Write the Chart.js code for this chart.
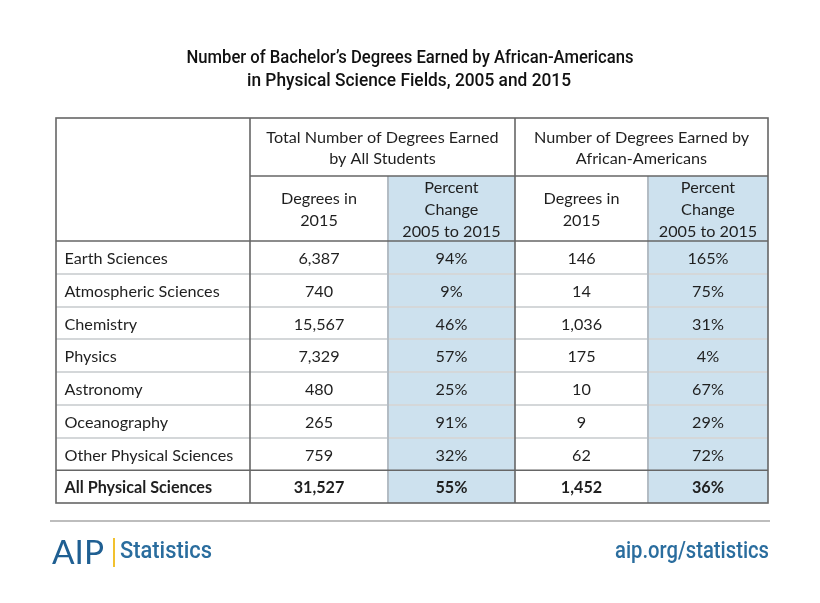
<!DOCTYPE html>
<html>
<head>
<meta charset="utf-8">
<script src="https://cdn.jsdelivr.net/npm/chart.js@4.4.1/dist/chart.umd.min.js"></script>
<style>
html,body{margin:0;padding:0;background:#fff;}
#wrap{width:820px;height:603px;position:relative;}
</style>
</head>
<body>
<div id="wrap"><canvas id="c" width="820" height="603"></canvas></div>
<script>
// ---- data ----
const titleLines = ["Number of Bachelor\u2019s Degrees Earned by African-Americans", "in Physical Science Fields, 2005 and 2015"];
const groupHeaders = [["Total Number of Degrees Earned", "by All Students"], ["Number of Degrees Earned by", "African-Americans"]];
const columnHeaders = [["Degrees in", "2015"], ["Percent", "Change", "2005 to 2015"], ["Degrees in", "2015"], ["Percent", "Change", "2005 to 2015"]];
const fields = ["Earth Sciences", "Atmospheric Sciences", "Chemistry", "Physics", "Astronomy", "Oceanography", "Other Physical Sciences", "All Physical Sciences"];
const allDegrees2015 = [6387, 740, 15567, 7329, 480, 265, 759, 31527];
const allPctChange = [94, 9, 46, 57, 25, 91, 32, 55];
const aaDegrees2015 = [146, 14, 1036, 175, 10, 9, 62, 1452];
const aaPctChange = [165, 75, 31, 4, 67, 29, 72, 36];

// ---- layout (table units) ----
const colEdges = [0, 194, 332, 459, 592, 712];
const headerEdges = [0, 58, 123];
const rowH = 32.75;
const tableH = 385;
const shadedCols = [2, 4];

const fmtNum = v => v.toLocaleString('en-US');
const fmtPct = v => v + '%';
const columns = [
  {vals: allDegrees2015, fmt: fmtNum},
  {vals: allPctChange, fmt: fmtPct},
  {vals: aaDegrees2015, fmt: fmtNum},
  {vals: aaPctChange, fmt: fmtPct}
];

const BODY = '"Lato", "Open Sans", sans-serif';
const COND = 'Roboto, "Liberation Sans Narrow", sans-serif';
const FS = '16.2px ';

function fitText(ctx, text, x, y, width, font, color, align) {
  ctx.save();
  ctx.font = font;
  ctx.fillStyle = color;
  ctx.textBaseline = 'middle';
  const w = ctx.measureText(text).width;
  const s = width / w;
  let x0 = align === 'right' ? x - width : (align === 'center' ? x - width / 2 : x);
  ctx.translate(x0, y);
  ctx.scale(s, 1);
  ctx.textAlign = 'left';
  ctx.fillText(text, 0, 0);
  ctx.restore();
}

const tablePlugin = {
  id: 'tablePlugin',
  beforeDraw(chart) {
    const ctx = chart.ctx;
    const xs = chart.scales.x, ys = chart.scales.y;
    const X = v => xs.getPixelForValue(v);
    const Y = v => ys.getPixelForValue(v);
    const rowTop = i => headerEdges[2] + i * rowH;

    ctx.save();
    ctx.fillStyle = '#cde1ee';
    shadedCols.forEach(c => {
      ctx.fillRect(X(colEdges[c]), Y(headerEdges[1]), X(colEdges[c + 1]) - X(colEdges[c]), Y(tableH) - Y(headerEdges[1]));
    });

    ctx.lineWidth = 2;
    ctx.strokeStyle = '#d4d7d9';
    for (let i = 1; i < fields.length - 1; i++) {
      const y = Math.round(Y(rowTop(i)));
      ctx.beginPath(); ctx.moveTo(X(0), y); ctx.lineTo(X(712), y); ctx.stroke();
    }
    ctx.strokeStyle = '#b3bcc4';
    [2, 4].forEach(c => {
      const x = Math.round(X(colEdges[c]));
      ctx.beginPath(); ctx.moveTo(x, Y(headerEdges[1])); ctx.lineTo(x, Y(tableH)); ctx.stroke();
    });
    ctx.strokeStyle = '#666666';
    ctx.lineWidth = 1.6;
    let y = Y(headerEdges[1]);
    ctx.beginPath(); ctx.moveTo(X(colEdges[1]), y); ctx.lineTo(X(712), y); ctx.stroke();
    y = Y(headerEdges[2]);
    ctx.beginPath(); ctx.moveTo(X(0), y); ctx.lineTo(X(712), y); ctx.stroke();
    y = Y(rowTop(fields.length - 1));
    ctx.beginPath(); ctx.moveTo(X(0), y); ctx.lineTo(X(712), y); ctx.stroke();
    [1, 3].forEach(c => {
      const x = X(colEdges[c]);
      ctx.beginPath(); ctx.moveTo(x, Y(0)); ctx.lineTo(x, Y(tableH)); ctx.stroke();
    });
    ctx.strokeRect(X(0), Y(0), X(712) - X(0), Y(tableH) - Y(0));
    ctx.restore();

    ctx.save();
    ctx.fillStyle = '#1f1f1f';
    ctx.textBaseline = 'middle';
    ctx.textAlign = 'center';
    ctx.font = FS + BODY;
    const dy = 1.5;
    groupHeaders.forEach((lines, g) => {
      const cx = (X(colEdges[1 + g * 2]) + X(colEdges[3 + g * 2])) / 2;
      const cy = (Y(headerEdges[0]) + Y(headerEdges[1])) / 2 + dy;
      lines.forEach((t, i) => ctx.fillText(t, cx, cy + (i - (lines.length - 1) / 2) * 21.5));
    });
    columnHeaders.forEach((lines, c) => {
      const cx = (X(colEdges[c + 1]) + X(colEdges[c + 2])) / 2;
      const cy = (Y(headerEdges[1]) + Y(headerEdges[2])) / 2 + dy;
      lines.forEach((t, i) => ctx.fillText(t, cx, cy + (i - (lines.length - 1) / 2) * 22));
    });
    fields.forEach((f, r) => {
      const bold = r === fields.length - 1;
      ctx.font = (bold ? 'bold ' : '') + FS + BODY;
      const cy = (Y(rowTop(r)) + Y(rowTop(r + 1))) / 2 + dy;
      ctx.textAlign = 'left';
      ctx.fillText(f, X(0) + 8.5, cy);
      ctx.textAlign = 'center';
      columns.forEach((col, c) => {
        const cx = (X(colEdges[c + 1]) + X(colEdges[c + 2])) / 2;
        ctx.fillText(col.fmt(col.vals[r]), cx, cy);
      });
    });
    ctx.restore();

    fitText(ctx, titleLines[0], 410, 58, 447, '500 19px ' + COND, '#111111', 'center');
    fitText(ctx, titleLines[1], 409, 81, 324, '500 19px ' + COND, '#111111', 'center');

    ctx.save();
    ctx.strokeStyle = '#bdbdbd';
    ctx.lineWidth = 2;
    ctx.beginPath(); ctx.moveTo(50, 521); ctx.lineTo(770, 521); ctx.stroke();
    ctx.fillStyle = '#f2c12e';
    ctx.fillRect(113, 538, 2, 29);
    ctx.restore();
    fitText(ctx, 'AIP', 52, 553, 52, '400 33px "Lato", sans-serif', '#1f5f92', 'left');
    fitText(ctx, 'Statistics', 120, 552, 92, '500 24px ' + COND, '#2a6d9e', 'left');
    fitText(ctx, 'aip.org/statistics', 769, 552, 154, '500 24px ' + COND, '#2a6d9e', 'right');
  }
};

new Chart(document.getElementById('c'), {
  type: 'scatter',
  data: { datasets: [{ data: [], pointRadius: 0 }] },
  options: {
    responsive: false,
    animation: false,
    events: [],
    layout: { padding: { left: 56, right: 52, top: 118, bottom: 100 } },
    plugins: { legend: { display: false }, tooltip: { enabled: false } },
    scales: {
      x: { type: 'linear', min: 0, max: colEdges[colEdges.length - 1], display: false },
      y: { type: 'linear', min: 0, max: tableH, reverse: true, display: false }
    }
  },
  plugins: [tablePlugin]
});
</script>
</body>
</html>
